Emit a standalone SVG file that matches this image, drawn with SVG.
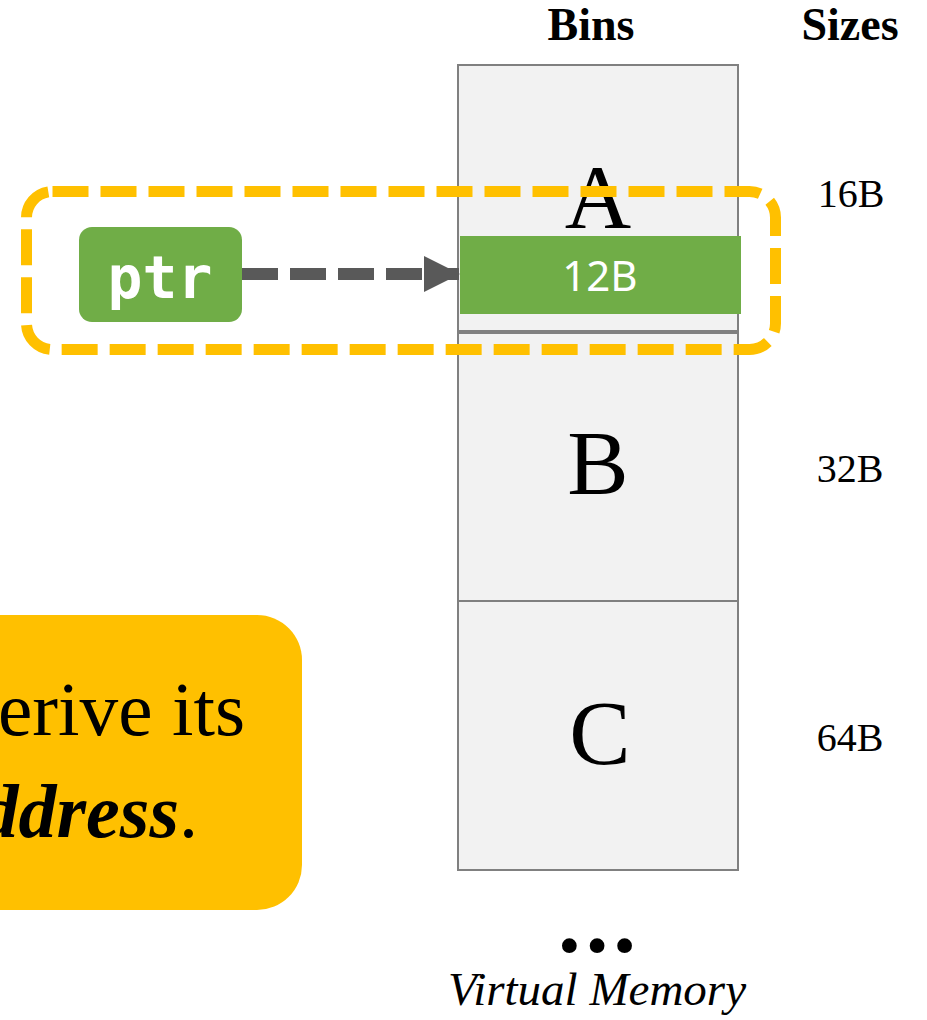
<svg xmlns="http://www.w3.org/2000/svg" width="927" height="1020" viewBox="0 0 927 1020">
  <style>
    .serif { font-family: "Liberation Serif", "DejaVu Serif", serif; fill: #000; }
    .hdr { font-size: 46px; font-weight: bold; text-anchor: middle; }
    .bin { fill: #F2F2F2; stroke: #808080; stroke-width: 2; }
    .binlbl { font-size: 92px; text-anchor: middle; }
    .size { font-size: 40px; text-anchor: middle; }
  </style>
  <defs>
    <marker id="ah" markerWidth="36" markerHeight="36" viewBox="0 0 36 36" refX="35" refY="18" orient="auto" markerUnits="userSpaceOnUse">
      <path d="M0,0 L36,18 L0,36 Z" fill="#595959"/>
    </marker>
  </defs>
  <rect width="927" height="1020" fill="#fff"/>

  <g id="headers">
    <text class="serif hdr" x="591" y="40">Bins</text>
    <text class="serif hdr" x="850" y="40">Sizes</text>
  </g>

  <g id="bin-A">
    <rect class="bin" x="458" y="65" width="280" height="266"/>
    <text class="serif binlbl" x="598" y="228">A</text>
  </g>
  <g id="bin-B">
    <rect class="bin" x="458" y="333" width="280" height="268"/>
    <text class="serif binlbl" x="598" y="494">B</text>
  </g>
  <g id="bin-C">
    <rect class="bin" x="458" y="601" width="280" height="269"/>
    <text class="serif binlbl" x="600" y="764">C</text>
  </g>

  <g id="sizes">
    <text class="serif size" x="851" y="207">16B</text>
    <text class="serif size" x="850" y="482">32B</text>
    <text class="serif size" x="850" y="751">64B</text>
  </g>

  <g id="alloc-12B">
    <rect x="460" y="236" width="281" height="78" fill="#70AD47"/>
    <text x="600" y="291" font-family="Noto Sans, DejaVu Sans, sans-serif" font-size="42" fill="#fff" text-anchor="middle">12B</text>
  </g>

  <g id="ptr">
    <rect x="79" y="227" width="163" height="95" rx="13" fill="#70AD47"/>
    <text x="160" y="298" font-family="DejaVu Sans Mono, Liberation Mono, monospace" font-size="58" font-weight="bold" fill="#fff" text-anchor="middle">ptr</text>
  </g>

  <g id="connectors">
    <line x1="242" y1="274" x2="459" y2="274" stroke="#595959" stroke-width="12" stroke-dasharray="36 12" marker-end="url(#ah)"/>
  </g>

  <g id="highlight">
    <rect x="26.5" y="191.5" width="749" height="158" rx="26" fill="none" stroke="#FFC000" stroke-width="11" stroke-dasharray="36 12"/>
  </g>

  <g id="callout">
    <rect x="-60" y="615" width="362" height="295" rx="45" fill="#FFC000"/>
    <text class="serif" x="-2" y="735" font-size="76" textLength="247" lengthAdjust="spacingAndGlyphs">erive its</text>
    <text class="serif" x="198" y="837" font-size="76" text-anchor="end"><tspan font-weight="bold" font-style="italic">ddress</tspan>.</text>
  </g>

  <g id="footer">
    <text class="serif" x="600" y="966" font-size="62" text-anchor="middle" letter-spacing="6">•••</text>
    <text class="serif" x="597" y="1005" font-size="47" font-style="italic" text-anchor="middle">Virtual Memory</text>
  </g>
</svg>
